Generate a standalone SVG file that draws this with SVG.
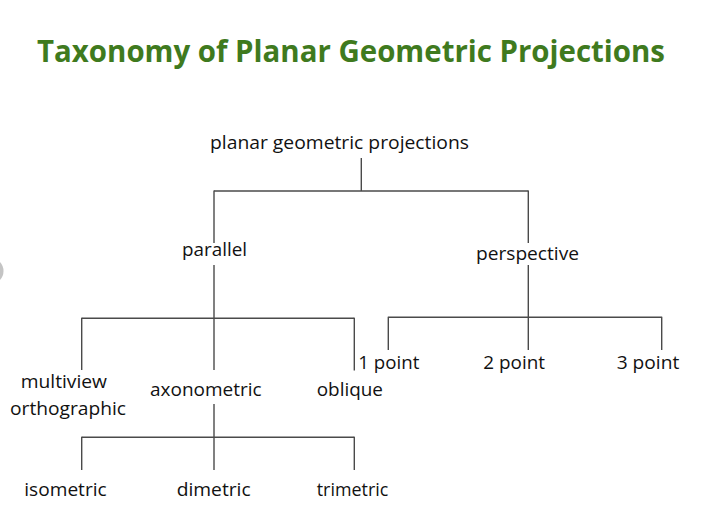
<svg xmlns="http://www.w3.org/2000/svg" width="719" height="532" viewBox="0 0 719 532">
<style>
.t{font-family:"Open Sans","Noto Sans","Liberation Sans",sans-serif;font-size:18.5px;fill:#111}
.title{font-family:"Open Sans","Noto Sans","Liberation Sans",sans-serif;font-size:31px;font-weight:bold;fill:#3f7a1e}
.c line{stroke:#4a4a4a;stroke-width:1.4}
</style>
<rect width="719" height="532" fill="#fff"/>
<circle cx="-10" cy="271" r="13.5" fill="#c4c4c4"/>
<text class="title" x="37" y="62" textLength="628" lengthAdjust="spacingAndGlyphs">Taxonomy of Planar Geometric Projections</text>
<g class="c" id="connectors">
<line x1="361.3" y1="158" x2="361.3" y2="191"/>
<line x1="214" y1="191" x2="528.3" y2="191"/>
<line x1="214" y1="190.4" x2="214" y2="243"/>
<line x1="528.3" y1="190.4" x2="528.3" y2="243"/>
<line x1="214" y1="265" x2="214" y2="370"/>
<line x1="81.7" y1="318.3" x2="354.3" y2="318.3"/>
<line x1="81.7" y1="317.7" x2="81.7" y2="370"/>
<line x1="354.3" y1="317.7" x2="354.3" y2="370.5"/>
<line x1="528.3" y1="265" x2="528.3" y2="350"/>
<line x1="388.3" y1="317.3" x2="661.7" y2="317.3"/>
<line x1="388.3" y1="316.7" x2="388.3" y2="350"/>
<line x1="661.7" y1="316.7" x2="661.7" y2="350"/>
<line x1="214" y1="404" x2="214" y2="470"/>
<line x1="81.7" y1="437.3" x2="354.3" y2="437.3"/>
<line x1="81.7" y1="436.7" x2="81.7" y2="470"/>
<line x1="354.3" y1="436.7" x2="354.3" y2="470"/>
</g>
<g id="root"><text class="t" x="210" y="149" textLength="259" lengthAdjust="spacingAndGlyphs">planar geometric projections</text></g>
<g id="parallel"><text class="t" x="182" y="256" textLength="65" lengthAdjust="spacingAndGlyphs">parallel</text></g>
<g id="perspective"><text class="t" x="476" y="260" textLength="103" lengthAdjust="spacingAndGlyphs">perspective</text></g>
<g id="multiview"><text class="t" x="20.7" y="388.3" textLength="86.3" lengthAdjust="spacingAndGlyphs">multiview</text><text class="t" x="10" y="415" textLength="116" lengthAdjust="spacingAndGlyphs">orthographic</text></g>
<g id="axonometric"><text class="t" x="150" y="396" textLength="111.7" lengthAdjust="spacingAndGlyphs">axonometric</text></g>
<g id="oblique"><text class="t" x="316.7" y="396" textLength="66.3" lengthAdjust="spacingAndGlyphs">oblique</text></g>
<g id="p1"><text class="t" x="358.3" y="369.3" textLength="61" lengthAdjust="spacingAndGlyphs">1 point</text></g>
<g id="p2"><text class="t" x="483.3" y="369.3" textLength="61.7" lengthAdjust="spacingAndGlyphs">2 point</text></g>
<g id="p3"><text class="t" x="616.7" y="369.3" textLength="62.6" lengthAdjust="spacingAndGlyphs">3 point</text></g>
<g id="isometric"><text class="t" x="24.3" y="496" textLength="82.4" lengthAdjust="spacingAndGlyphs">isometric</text></g>
<g id="dimetric"><text class="t" x="176.7" y="496" textLength="74" lengthAdjust="spacingAndGlyphs">dimetric</text></g>
<g id="trimetric"><text class="t" x="316.7" y="496" textLength="71.6" lengthAdjust="spacingAndGlyphs">trimetric</text></g>
</svg>
